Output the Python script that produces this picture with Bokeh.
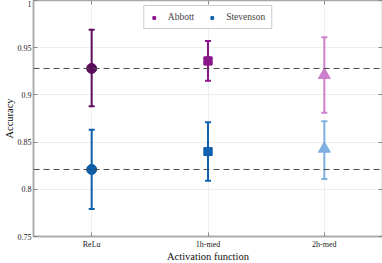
from bokeh.plotting import figure
from bokeh.models import (ColumnDataSource, FactorRange, Range1d, Span, Whisker, TeeHead,
                          Legend, LegendItem, FixedTicker, LinearAxis, CategoricalAxis)
from bokeh.embed import file_html
from bokeh.resources import INLINE

categories = ["ReLu", "1h-med", "2h-med"]
markers = ["circle", "square", "triangle"]
sizes = [10, 8, 12]

abbott_mean = [0.928, 0.936, 0.921]
abbott_low = [0.888, 0.915, 0.881]
abbott_high = [0.969, 0.957, 0.961]
abbott_colors = ["#5c0c5c", "#8b168b", "#cc7fcc"]

stev_mean = [0.821, 0.840, 0.843]
stev_low = [0.779, 0.809, 0.811]
stev_high = [0.863, 0.871, 0.872]
stev_colors = ["#0c5ea9", "#1061ae", "#7fb0e0"]

yticks = [0.75, 0.8, 0.85, 0.9, 0.95, 1.0]
ytick_labels = ["0.75", "0.8", "0.85", "0.9", "0.95", "1"]

FONT = "Liberation Serif"

p = figure(x_range=FactorRange(*categories, range_padding=0), y_range=Range1d(0.75, 1.0),
           frame_width=349, frame_height=236, output_backend="svg", toolbar_location=None,
           min_border_left=0, min_border_right=1, min_border_top=0, min_border_bottom=0)
p.outline_line_color = "#a8a8a8"
p.outline_line_width = 1.5
p.background_fill_color = "white"

for ax in [p.xaxis[0], p.yaxis[0]]:
    ax.axis_line_color = "#a8a8a8"
    ax.axis_line_width = 1.5
    ax.major_tick_in = 4
    ax.major_tick_out = 0
    ax.major_tick_line_color = "#888888"
    ax.minor_tick_line_color = None
    ax.major_label_text_font = FONT
    ax.major_label_text_font_size = "8px"
    ax.major_label_text_color = "#222222"
    ax.major_label_text_line_height = 1.0
    ax.axis_label_text_font = FONT
    ax.axis_label_text_font_size = "10.5px"
    ax.axis_label_text_font_style = "normal"
    ax.axis_label_text_color = "#111111"
    ax.axis_label_text_line_height = 1.0

p.yaxis.ticker = FixedTicker(ticks=yticks)
p.yaxis.major_label_overrides = {t: l for t, l in zip(yticks, ytick_labels)}
p.yaxis.axis_label = "Accuracy"
p.yaxis.axis_label_standoff = 0
p.yaxis.major_label_standoff = 2
p.xaxis.axis_label = "Activation function"
p.xaxis.axis_label_standoff = -1
p.xaxis.major_label_standoff = 3

# mirrored ticks top/right (labels hidden)
rax = LinearAxis(ticker=FixedTicker(ticks=yticks), major_label_text_font_size="1px",
                 major_label_text_color=None,
                 axis_line_color=None, major_tick_in=4, major_tick_out=0,
                 major_tick_line_color="#888888", minor_tick_line_color=None, major_label_standoff=0)
p.add_layout(rax, "right")
tax = CategoricalAxis(major_label_text_font_size="1px", major_label_text_color=None,
                      axis_line_color=None, major_tick_in=4,
                      major_tick_out=0, major_tick_line_color="#888888", major_label_standoff=0)
p.add_layout(tax, "above")

p.xgrid.grid_line_color = "#eeeeee"
p.ygrid.grid_line_color = "#eeeeee"
p.xgrid.grid_line_width = 1
p.ygrid.grid_line_width = 1

p.add_layout(Span(location=abbott_mean[0], dimension="width", line_color="#4a4a4a",
                  line_dash="6 4", line_width=1))
p.add_layout(Span(location=stev_mean[0], dimension="width", line_color="#4a4a4a",
                  line_dash="6 4", line_width=1))

legend_renderers = []
for mean, low, high, colors in [(abbott_mean, abbott_low, abbott_high, abbott_colors),
                                (stev_mean, stev_low, stev_high, stev_colors)]:
    src = ColumnDataSource(dict(x=categories, y=mean, low=low, high=high,
                                color=colors, marker=markers, size=sizes))
    w = Whisker(base="x", lower="low", upper="high", source=src,
                line_color="color", line_width=2,
                upper_head=TeeHead(size=6, line_color="color", line_width=2),
                lower_head=TeeHead(size=6, line_color="color", line_width=2))
    p.add_layout(w)
    p.scatter("x", "y", source=src, marker="marker", size="size",
              fill_color="color", line_color="color")
    # square point (1h-med) doubles as the legend glyph
    lr = p.scatter(x=[categories[1]], y=[mean[1]], marker="square", size=sizes[1],
                   fill_color=colors[1], line_color=colors[1])
    legend_renderers.append(lr)

legend = Legend(items=[LegendItem(label="Abbott", renderers=[legend_renderers[0]]),
                       LegendItem(label="Stevenson", renderers=[legend_renderers[1]])],
                orientation="horizontal", location="top_center",
                label_text_font=FONT, label_text_font_size="9.5px",
                glyph_width=7, glyph_height=7, label_standoff=11, spacing=14,
                padding=6, margin=5, border_line_color="#999999",
                label_height=7)
p.add_layout(legend)

open("out.html", "w").write(file_html(p, INLINE))
